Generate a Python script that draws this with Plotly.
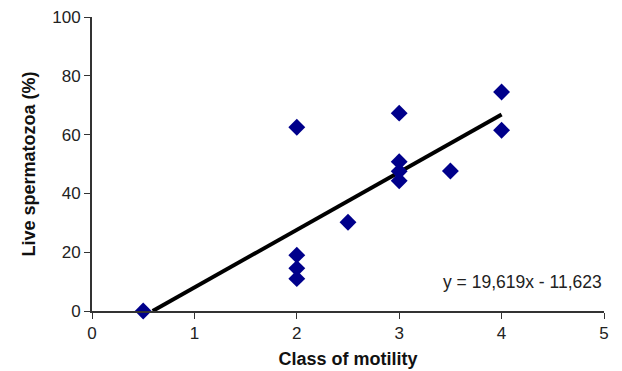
import plotly.graph_objects as go

motility = [0.5, 2, 2, 2, 2, 2.5, 3, 3, 3, 3, 3.5, 4, 4]
live = [0, 62.5, 19, 14.5, 11, 30.2, 67.3, 50.8, 47.5, 44.3, 47.6, 74.5, 61.5]

slope = 19.619
intercept = -11.623
x_start = -intercept / slope
x_end = 4.0
trend_x = [x_start, x_end]
trend_y = [slope * x + intercept for x in trend_x]

x_ticks = [0, 1, 2, 3, 4, 5]
y_ticks = [0, 20, 40, 60, 80, 100]

font_family = "Liberation Sans, Arial, Helvetica, sans-serif"

fig = go.Figure()
fig.add_trace(go.Scatter(
    x=trend_x, y=trend_y, mode="lines",
    line=dict(color="black", width=4),
    showlegend=False, hoverinfo="skip"))
fig.add_trace(go.Scatter(
    x=motility, y=live, mode="markers",
    marker=dict(symbol="diamond", size=13, color="#00008B"),
    cliponaxis=False, showlegend=False))

fig.add_annotation(
    x=5, y=10, xref="x", yref="y", xanchor="right", yanchor="middle",
    text="y = 19,619x - 11,623", showarrow=False,
    font=dict(family=font_family, size=17.5, color="#222"))

tick_font = dict(family=font_family, size=17, color="#222")
title_font = dict(family=font_family, size=18, color="#111")
fig.update_xaxes(
    range=[0, 5], tickvals=x_ticks, ticks="outside", ticklen=6, tickcolor="#333",
    showline=True, linecolor="#333", linewidth=2, showgrid=False, zeroline=False,
    tickfont=tick_font, automargin=False,
    title=dict(text="<b>Class of motility</b>", font=title_font, standoff=10))
fig.update_yaxes(
    range=[0, 100], tickvals=y_ticks, ticks="outside", ticklen=6, tickcolor="#333",
    showline=True, linecolor="#333", linewidth=2, showgrid=False, zeroline=False,
    tickfont=tick_font, automargin=False,
    title=dict(text="<b>Live spermatozoa (%)</b>", font=title_font, standoff=12))

fig.update_layout(
    width=622, height=371,
    margin=dict(l=92, r=18, t=17, b=60),
    plot_bgcolor="white", paper_bgcolor="white")

fig.write_html("out.html")
